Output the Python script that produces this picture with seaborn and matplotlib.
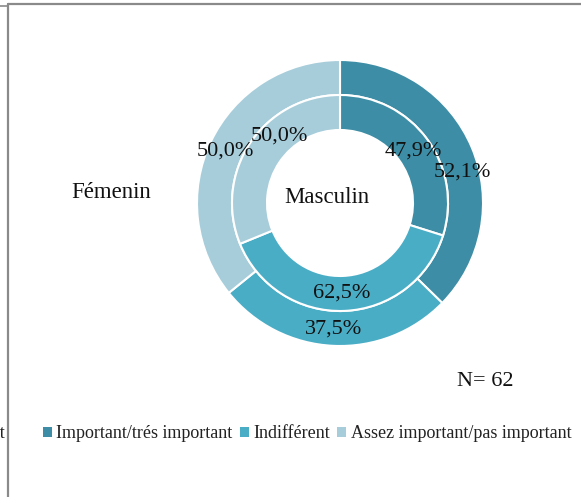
import numpy as np
import seaborn as sns
import matplotlib.pyplot as plt
from matplotlib.patches import Patch
from matplotlib.lines import Line2D

# data
categories = ['Important/trés important', 'Indifférent', 'Assez important/pas important']
feminin = [52.1, 37.5, 50.0]    # outer ring
masculin = [47.9, 62.5, 50.0]   # inner ring
n_total = 62

# small label nudges (degrees) so text sits like in the original
outer_shift = [-8.5, 0, 1]
inner_shift = [-1, -1, -14]

sns.set_theme(style='white')
plt.rcParams['font.family'] = ['Liberation Serif', 'DejaVu Serif']
colors = sns.color_palette(['#3C8DA5', '#4AADC6', '#A7CDDA'])

W, H = 581, 497
fig = plt.figure(figsize=(W / 100, H / 100), dpi=100)

# donut axes: centre (340, 203) px, outer radius 143 px
cx, cy, R = 340, 203, 143
ax = fig.add_axes([(cx - R) / W, (H - cy - R) / H, 2 * R / W, 2 * R / H])

ring_w = 35 / 143
wedge_style = dict(width=ring_w, edgecolor='white', linewidth=1.5)
ax.pie(feminin, radius=1.0, colors=colors, startangle=90, counterclock=False,
       wedgeprops=wedge_style)
ax.pie(masculin, radius=1.0 - ring_w, colors=colors, startangle=90, counterclock=False,
       wedgeprops=wedge_style)
ax.set_xlim(-1, 1)
ax.set_ylim(-1, 1)
ax.axis('off')


def put_labels(vals, r, shifts):
    total = sum(vals)
    start = 90.0
    for v, s in zip(vals, shifts):
        span = 360.0 * v / total
        mid = np.deg2rad(start - span / 2 + s)
        ax.text(r * np.cos(mid), r * np.sin(mid), f'{v:.1f}%'.replace('.', ','),
                ha='center', va='center', fontsize=16, color='#111111')
        start -= span


put_labels(feminin, 0.88, outer_shift)
put_labels(masculin, 0.63, inner_shift)
ax.text(-0.09, 0.04, 'Masculin', ha='center', va='center', fontsize=16.5, color='#111111')

fig.text(111 / W, 1 - 193 / H, 'Fémenin', ha='center', va='center', fontsize=16.5,
         color='#111111')
fig.text(485 / W, 1 - 381 / H, f'N= {n_total}', ha='center', va='center', fontsize=16,
         color='#111111')

# legend
handles = [Patch(facecolor=c, edgecolor='none') for c in colors]
fig.legend(handles, categories, loc='center', bbox_to_anchor=(307 / W, 1 - 434 / H),
           ncol=3, frameon=False, fontsize=13, handlelength=0.5, handleheight=0.5,
           handletextpad=0.25, columnspacing=0.4, labelcolor='#222222')
# cut-off legend text of the neighbouring chart
fig.text(5 / W, 1 - 434 / H, 'important', ha='right', va='center', fontsize=13,
         color='#222222')

# chart frame (only top and left edges visible in the crop)
fig.add_artist(Line2D([8 / W, 8 / W], [0, 1 - 4 / H], transform=fig.transFigure,
                      color='#8a8a8a', lw=1.6))
fig.add_artist(Line2D([8 / W, 1], [1 - 4 / H, 1 - 4 / H], transform=fig.transFigure,
                      color='#8a8a8a', lw=1.6))
fig.add_artist(Line2D([0, 8 / W], [1 - 6 / H, 1 - 6 / H], transform=fig.transFigure,
                      color='#8a8a8a', lw=1.2))

fig.savefig('out.png', dpi=100)
